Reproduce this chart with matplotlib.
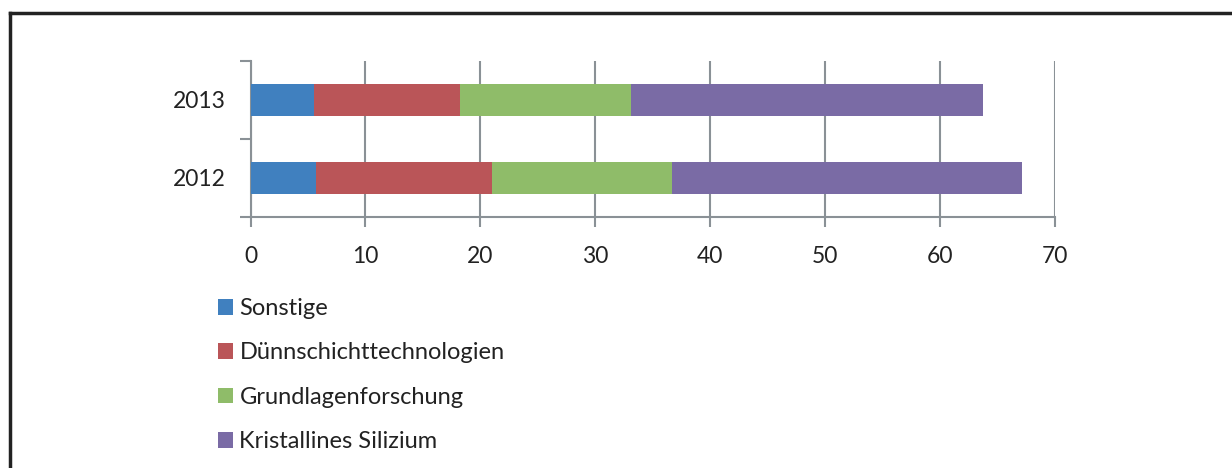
import matplotlib.pyplot as plt
from matplotlib.patches import Patch
from matplotlib.lines import Line2D

# data
years = ['2012', '2013']
sonstige = [5.7, 5.5]
duennschicht = [15.35, 12.7]
grundlagen = [15.65, 14.9]
kristallin = [30.4, 30.6]

series = ['Sonstige', 'Dünnschichttechnologien', 'Grundlagenforschung', 'Kristallines Silizium']
colors = ['#4080BF', '#BA5558', '#8FBC69', '#7A6BA5']

plt.rcParams['font.family'] = ['Lato', 'DejaVu Sans']

W, H = 1232, 468
fig = plt.figure(figsize=(W / 100, H / 100), dpi=100)
ax = fig.add_axes([250.5 / W, 1 - 217 / H, (1055 - 250.5) / W, (217 - 61) / H])

left = [0, 0]
handles = []
for name, vals, c in zip(series, [sonstige, duennschicht, grundlagen, kristallin], colors):
    ax.barh(years, vals, left=left, height=0.4, color=c, zorder=3)
    left = [a + b for a, b in zip(left, vals)]
    handles.append(Patch(facecolor=c, label=name))

grid_c = '#8A9196'
ax.set_xlim(0, 70)
ax.set_ylim(-0.5, 1.5)
ax.set_xticks(range(0, 71, 10))
ax.xaxis.grid(True, color=grid_c, linewidth=1.5, zorder=0)
for s in ['top', 'right']:
    ax.spines[s].set_visible(False)
for s in ['left', 'bottom']:
    ax.spines[s].set_color(grid_c)
    ax.spines[s].set_linewidth(1.5)
ax.tick_params(axis='x', colors=grid_c, length=7, width=1.5, labelsize=16.5, labelcolor='#222222', pad=14)
ax.tick_params(axis='y', which='major', length=0, labelsize=16.5, labelcolor='#222222', pad=18)
ax.set_yticks([-0.5, 0.5, 1.5], minor=True)
ax.tick_params(axis='y', which='minor', length=8, width=1.5, colors=grid_c)

fig.legend(handles=handles, loc='upper left', bbox_to_anchor=(218 / W, 1 - 298 / H),
           frameon=False, fontsize=17, handlelength=0.64, handleheight=0.64,
           handletextpad=0.27, labelspacing=0.99, borderpad=0, borderaxespad=0,
           labelcolor='#222222')

# frame of the scanned figure box (top and left only)
fig.add_artist(Line2D([10 / W, 1], [1 - 13 / H, 1 - 13 / H], color='#222222', linewidth=2.5))
fig.add_artist(Line2D([10 / W, 10 / W], [1 - 13 / H, 0], color='#222222', linewidth=2.5))

fig.savefig('out.png', dpi=100)
